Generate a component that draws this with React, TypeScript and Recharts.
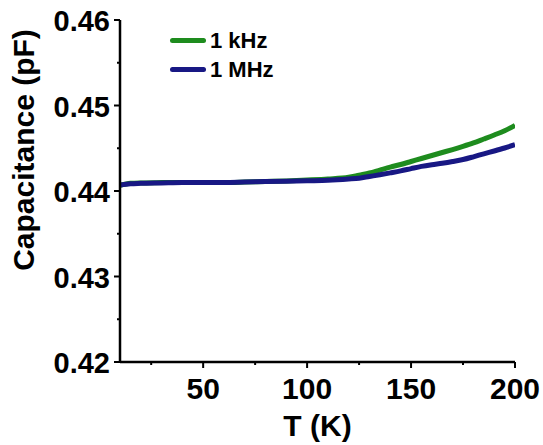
import React from "react";
import {
  LineChart,
  Line,
  XAxis,
  YAxis,
  Legend,
  Label,
} from "recharts";

// temperature (K)
const temps = [
  10, 15, 20, 30, 40, 50, 60, 70, 80, 90, 100, 110, 120, 125, 130, 135, 140,
  145, 150, 155, 160, 165, 170, 175, 180, 185, 190, 195, 200,
];

// capacitance (pF) at 1 kHz
const cap1kHz = [
  0.44065, 0.4409, 0.44095, 0.44098, 0.441, 0.441, 0.441, 0.44105, 0.44112,
  0.44118, 0.44128, 0.4414, 0.4416, 0.44185, 0.4421, 0.44245, 0.4428, 0.4431,
  0.44345, 0.4438, 0.44415, 0.4445, 0.44485, 0.44522, 0.44562, 0.44608,
  0.44655, 0.44705, 0.44768,
];

// capacitance (pF) at 1 MHz
const cap1MHz = [
  0.4407, 0.44085, 0.4409, 0.44095, 0.441, 0.441, 0.441, 0.44105, 0.4411,
  0.44115, 0.4412, 0.44125, 0.4414, 0.4415, 0.4417, 0.4419, 0.44212, 0.44235,
  0.44262, 0.44288, 0.44308, 0.44325, 0.44345, 0.44368, 0.444, 0.44435,
  0.44468, 0.44503, 0.44542,
];

const seriesNames = ["1 kHz", "1 MHz"];
const xTicks = [25, 50, 75, 100, 125, 150, 175, 200];
const yTicks = [0.42, 0.425, 0.43, 0.435, 0.44, 0.445, 0.45, 0.455, 0.46];

const FONT = "'Liberation Sans', Arial, Helvetica, sans-serif";
const GREEN = "#1e8c1e";
const NAVY = "#181884";

const data = temps.map((t, i) => ({
  t,
  khz: cap1kHz[i],
  mhz: cap1MHz[i],
}));

function XTick(props: any) {
  const { x, y, payload } = props;
  const major = payload.value % 50 === 0;
  return (
    <g>
      <line x1={x} y1={y} x2={x} y2={y + (major ? 6 : 3)} stroke="#000" strokeWidth={2} />
      {major && (
        <text
          x={x}
          y={y + 37}
          textAnchor="middle"
          fontFamily={FONT}
          fontWeight="bold"
          fontSize={30}
          fill="#000"
        >
          {payload.value}
        </text>
      )}
    </g>
  );
}

function YTick(props: any) {
  const { x, y, payload } = props;
  const major = Math.round(payload.value * 1000) % 10 === 0;
  return (
    <g>
      <line x1={x} y1={y} x2={x - (major ? 6 : 3)} y2={y} stroke="#000" strokeWidth={2} />
      {major && (
        <text
          x={x - 10}
          y={y + 11}
          textAnchor="end"
          fontFamily={FONT}
          fontWeight="bold"
          fontSize={29}
          fill="#000"
        >
          {payload.value.toFixed(2)}
        </text>
      )}
    </g>
  );
}

function renderLegend(props: any) {
  const items = [...(props.payload || [])].sort(
    (a: any, b: any) => seriesNames.indexOf(a.value) - seriesNames.indexOf(b.value)
  );
  return (
    <div style={{ fontFamily: FONT, fontWeight: "bold", fontSize: 22 }}>
      {items.map((p: any) => (
        <div
          key={p.value}
          style={{ display: "flex", alignItems: "center", height: 29 }}
        >
          <div
            style={{
              width: 36,
              height: 5,
              borderRadius: 3,
              background: p.color,
              marginRight: 4,
            }}
          />
          <span>{p.value}</span>
        </div>
      ))}
    </div>
  );
}

export default function App() {
  return (
    <div style={{ position: "absolute", left: 0, top: 0, background: "#fff" }}>
      <LineChart
        width={543}
        height={445}
        data={data}
        margin={{ top: 20, right: 28, left: 0, bottom: 0 }}
      >
        <XAxis
          dataKey="t"
          type="number"
          domain={[10, 200]}
          ticks={xTicks}
          allowDataOverflow
          height={83}
          tickSize={0}
          tickMargin={0}
          tickLine={false}
          tick={<XTick />}
          interval={0}
          axisLine={{ stroke: "#000", strokeWidth: 2.5 }}
        >
          <Label
            content={(p: any) => {
              const vb = p.viewBox;
              return (
                <text
                  x={vb.x + vb.width / 2}
                  y={436}
                  textAnchor="middle"
                  fontFamily={FONT}
                  fontWeight="bold"
                  fontSize={30}
                  fill="#000"
                >
                  T (K)
                </text>
              );
            }}
          />
        </XAxis>
        <YAxis
          type="number"
          domain={[0.42, 0.46]}
          ticks={yTicks}
          allowDataOverflow
          width={120}
          tickSize={0}
          tickMargin={0}
          tickLine={false}
          tick={<YTick />}
          interval={0}
          axisLine={{ stroke: "#000", strokeWidth: 2.5 }}
        >
          <Label
            content={() => (
              <text
                x={0}
                y={0}
                transform="translate(34, 150) rotate(-90)"
                textAnchor="middle"
                fontFamily={FONT}
                fontWeight="bold"
                fontSize={30}
                fill="#000"
              >
                Capacitance (pF)
              </text>
            )}
          />
        </YAxis>
        <Legend
          layout="vertical"
          verticalAlign="middle"
          align="center"
          content={renderLegend}
          wrapperStyle={{ left: 170, top: 26, width: "auto", height: "auto" }}
        />
        <Line
          type="monotone"
          dataKey="khz"
          name={seriesNames[0]}
          stroke={GREEN}
          strokeWidth={5}
          dot={false}
          isAnimationActive={false}
        />
        <Line
          type="monotone"
          dataKey="mhz"
          name={seriesNames[1]}
          stroke={NAVY}
          strokeWidth={5}
          dot={false}
          isAnimationActive={false}
        />
      </LineChart>
    </div>
  );
}
